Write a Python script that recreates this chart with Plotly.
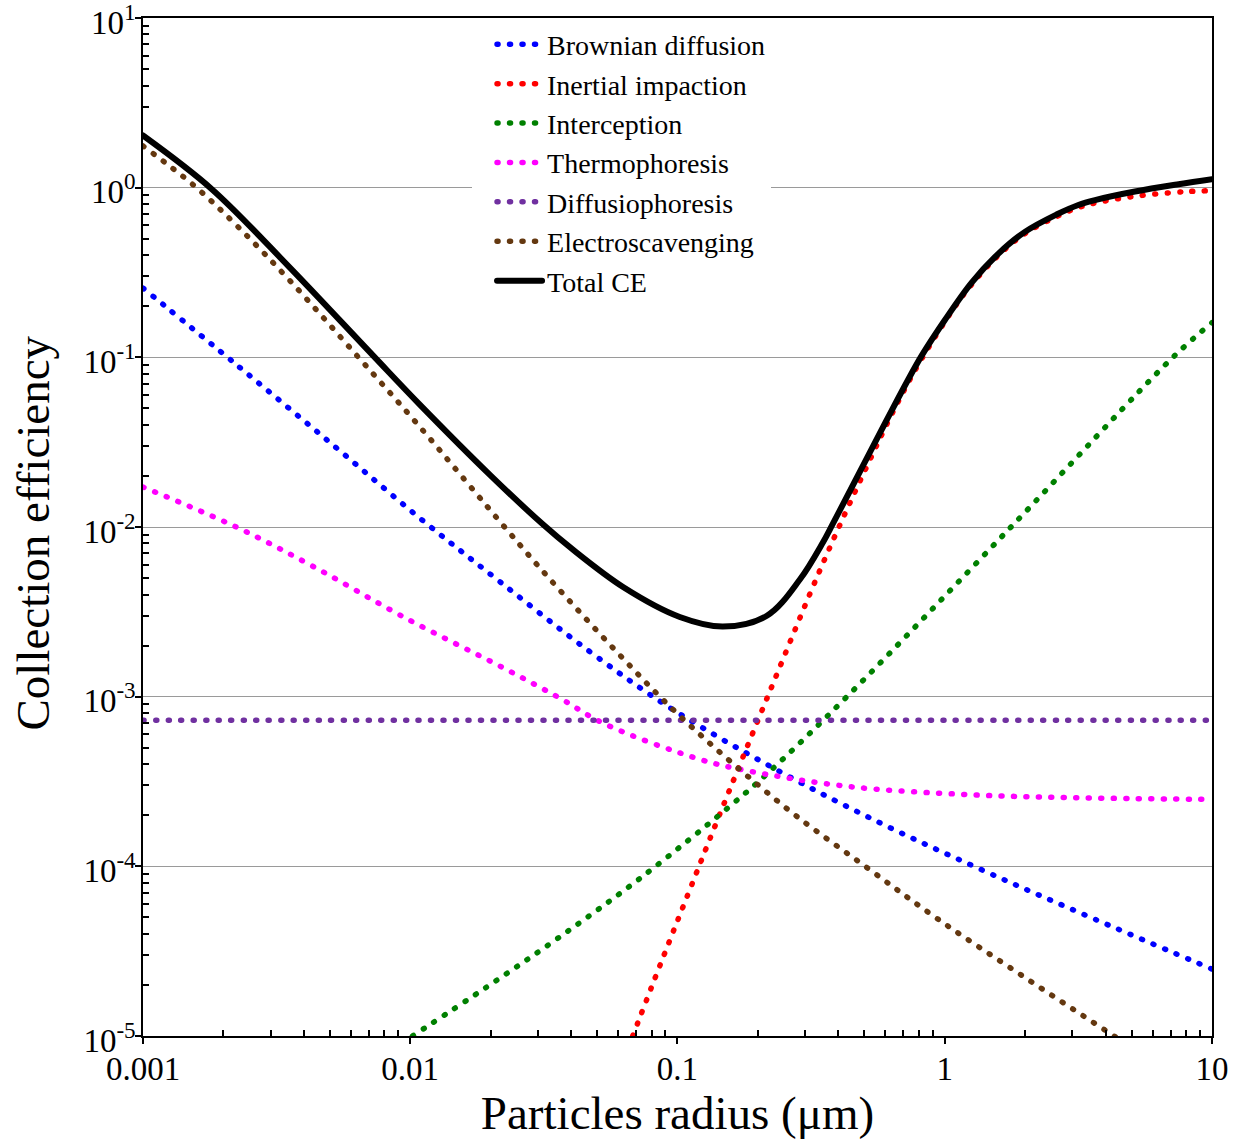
import plotly.graph_objects as go

# ---- data ----
brown_x = [0.001, 0.00154, 0.00229, 0.00361, 0.00643, 0.0107, 0.0232, 0.0330, 0.0598, 0.102, 0.252, 0.507, 0.951, 1.98, 4.30, 10]
brown_y = [1.76, 1.04, 0.579, 0.2745, 0.0992, 0.0400, 0.00948, 0.00501, 0.00181, 7.7e-4, 2.24e-4, 9.93e-5, 4.84e-5, 2.23e-5, 1.0e-5, 4.2e-6]

blue_x = [0.001, 0.00222, 0.00513, 0.0108, 0.0215, 0.0468, 0.0951, 0.2455, 0.587, 1.324, 2.92, 10]
blue_y = [0.256, 0.0914, 0.0305, 0.01136, 0.00480, 0.00185, 8.48e-4, 3.57e-4, 1.77e-4, 9.8e-5, 5.67e-5, 2.48e-5]

pink_x = [0.001, 0.00226, 0.00445, 0.00951, 0.02245, 0.0363, 0.0536, 0.122, 0.186, 0.440, 1.26, 2.95, 10]
pink_y = [0.0172, 0.00991, 0.00572, 0.00293, 0.00147, 9.8e-4, 6.89e-4, 4.26e-4, 3.64e-4, 2.95e-4, 2.64e-4, 2.54e-4, 2.48e-4]

purple_x = [0.001, 0.01, 0.1, 1, 10]
purple_y = [7.27e-4, 7.27e-4, 7.27e-4, 7.27e-4, 7.27e-4]

green_x = [0.0102, 0.0193, 0.0363, 0.0734, 0.157, 0.219, 0.440, 1.77, 7.14, 10]
green_y = [1.0e-5, 1.94e-5, 3.84e-5, 8.63e-5, 2.26e-4, 3.57e-4, 1.035e-3, 0.0100, 0.100, 0.160]

red_x = [0.0680, 0.0865, 0.110, 0.140, 0.2198, 0.348, 0.499, 0.665, 0.822, 1.092, 1.259, 1.585, 1.995, 2.62, 3.162, 3.65, 5.15, 7.93, 10]
red_y = [1e-5, 2.67e-5, 6.98e-5, 1.82e-4, 1.042e-3, 5.98e-3, 0.0210, 0.0537, 0.0986, 0.199, 0.268, 0.398, 0.536, 0.675, 0.764, 0.812, 0.890, 0.947, 0.960]

total_x = [0.001, 0.00181, 0.0035, 0.00728, 0.01088, 0.02, 0.0315, 0.04, 0.063, 0.102, 0.148, 0.216,
           0.287, 0.35, 0.382, 0.499, 0.6, 0.72, 0.822, 1.0, 1.259, 1.585, 1.995, 2.62, 3.162, 3.65, 5.15, 7.5, 10]
total_y = [2.03, 0.98, 0.345, 0.102, 0.0525, 0.0201, 0.0103, 0.0075, 0.0044, 0.00295, 0.00259, 0.0030,
           0.0049, 0.0081, 0.0105, 0.0236, 0.0413, 0.0711, 0.103, 0.1655, 0.275, 0.4075, 0.549, 0.695, 0.791, 0.845, 0.949, 1.048, 1.121]

x_tickvals = [0.001, 0.01, 0.1, 1, 10]
x_ticktext = ["0.001", "0.01", "0.1", "1", "10"]
y_tickvals = [1e-5, 1e-4, 1e-3, 1e-2, 1e-1, 1, 10]
y_ticktext = ["10<sup>-5</sup>", "10<sup>-4</sup>", "10<sup>-3</sup>", "10<sup>-2</sup>",
              "10<sup>-1</sup>", "10<sup>0</sup>", "10<sup>1</sup>"]

series = [
    ("Brownian diffusion", blue_x, blue_y, "#0000FF"),
    ("Inertial impaction", red_x, red_y, "#FF0000"),
    ("Interception", green_x, green_y, "#008000"),
    ("Thermophoresis", pink_x, pink_y, "#FF00FF"),
    ("Diffusiophoresis", purple_x, purple_y, "#7030A0"),
    ("Electroscavenging", brown_x, brown_y, "#643810"),
]

FONT = "Liberation Serif"
fig = go.Figure()
for name, xs, ys, col in series:
    fig.add_trace(go.Scatter(
        x=xs, y=ys, name=name, mode="lines",
        line=dict(color=col, width=5.5, dash="1px,11.5px", shape="spline", smoothing=1.0),
    ))
fig.add_trace(go.Scatter(
    x=total_x, y=total_y, name="Total CE", mode="lines",
    line=dict(color="black", width=6, shape="spline", smoothing=1.0),
))

minor_x = [m * 10.0 ** e for e in range(-3, 1) for m in range(2, 10)]
minor_y = [m * 10.0 ** e for e in range(-5, 1) for m in range(2, 10)]

fig.update_xaxes(
    type="log", range=[-3, 1.0001],
    tickmode="array", tickvals=x_tickvals, ticktext=x_ticktext,
    ticks="outside", ticklen=6, tickwidth=1.5, tickcolor="black",
    ticklabelstandoff=-3, ticklabeloverflow="allow",
    showline=True, linecolor="black", linewidth=1.5, mirror=True,
    showgrid=False, zeroline=False,
    minor=dict(tickmode="array", tickvals=minor_x, ticks="inside", ticklen=6,
               tickwidth=1.5, tickcolor="black", showgrid=False),
    tickfont=dict(family=FONT, size=33, color="black"),
    title=dict(text="Particles radius (μm)", font=dict(family=FONT, size=47, color="black"),
               standoff=5),
    automargin=False,
)
fig.update_yaxes(
    type="log", range=[-5.0001, 1.0001],
    tickmode="array", tickvals=y_tickvals, ticktext=y_ticktext,
    ticks="outside", ticklen=6, tickwidth=1.5, tickcolor="black",
    ticklabelstandoff=-7, ticklabelshift=4, ticklabeloverflow="allow",
    showline=True, linecolor="black", linewidth=1.5, mirror=True,
    showgrid=True, gridcolor="#9a9a9a", gridwidth=1, zeroline=False,
    minor=dict(tickmode="array", tickvals=minor_y, ticks="inside", ticklen=6,
               tickwidth=1.5, tickcolor="black", showgrid=False),
    tickfont=dict(family=FONT, size=33, color="black"),
    automargin=False,
)
fig.add_annotation(
    text="Collection efficiency", textangle=-90, showarrow=False,
    xref="paper", yref="paper", x=-0.1029, y=0.4946,
    xanchor="center", yanchor="middle",
    font=dict(family=FONT, size=47, color="black"),
)
fig.update_layout(
    width=1250, height=1139,
    margin=dict(l=143, r=38, t=18, b=103),
    paper_bgcolor="white", plot_bgcolor="white",
    font=dict(family=FONT, color="black"),
    showlegend=True,
    legend=dict(
        x=0.3078, y=0.9985, xanchor="left", yanchor="top",
        bgcolor="white", borderwidth=0, indentation=20,
        font=dict(family=FONT, size=28, color="black"),
        itemwidth=45, tracegroupgap=0,
    ),
)

post = """
document.body.style.margin = '0';
document.body.style.padding = '0';
document.documentElement.style.overflow = 'hidden';
var gd = document.getElementById('{plot_id}');
function rc(){
  gd.querySelectorAll('path.js-line, .legendlines path').forEach(function(p){
    p.style.strokeLinecap = 'round';
  });
}
rc(); setTimeout(rc, 0); setTimeout(rc, 200);
if (gd.on) gd.on('plotly_afterplot', rc);
"""
fig.write_html("out.html", post_script=post, config={"displayModeBar": False})
